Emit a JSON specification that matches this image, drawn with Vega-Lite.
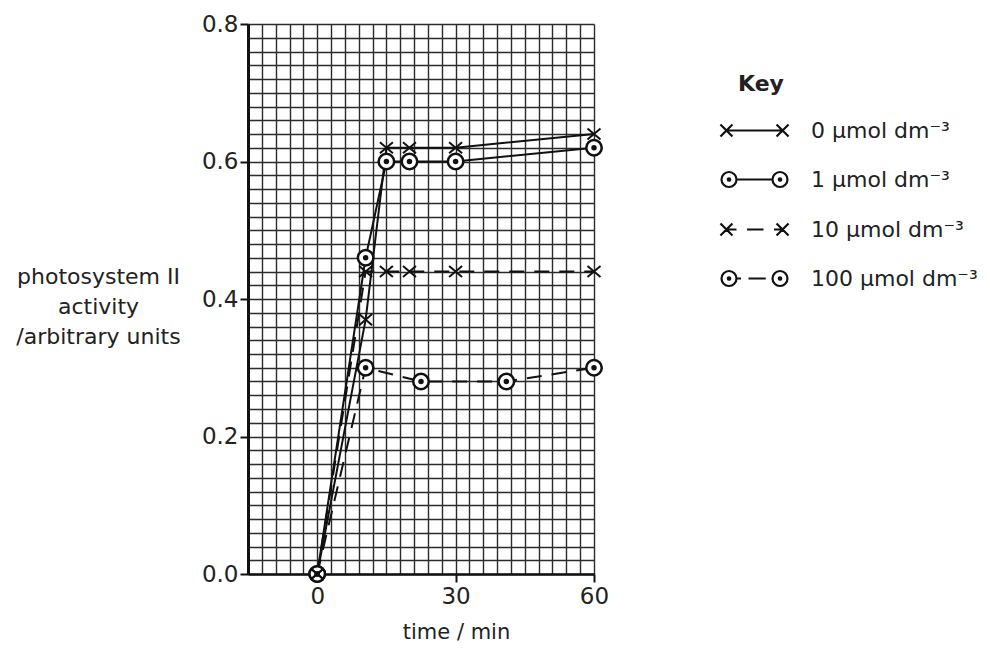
{
  "$schema": "https://vega.github.io/schema/vega-lite/v6.json",
  "width": 346,
  "height": 550,
  "autosize": "none",
  "padding": {"left": 248, "top": 24, "right": 396, "bottom": 78},
  "config": {
    "font": "DejaVu Sans",
    "view": {"stroke": null},
    "background": "white"
  },
  "data": {
    "values": [
      {"series": "0", "t": 0, "v": 0},
      {"series": "0", "t": 10.5, "v": 0.37},
      {"series": "0", "t": 15, "v": 0.62},
      {"series": "0", "t": 20, "v": 0.62},
      {"series": "0", "t": 30, "v": 0.62},
      {"series": "0", "t": 60, "v": 0.64},
      {"series": "1", "t": 0, "v": 0},
      {"series": "1", "t": 10.5, "v": 0.46},
      {"series": "1", "t": 15, "v": 0.60},
      {"series": "1", "t": 20, "v": 0.60},
      {"series": "1", "t": 30, "v": 0.60},
      {"series": "1", "t": 60, "v": 0.62},
      {"series": "10", "t": 0, "v": 0},
      {"series": "10", "t": 10.5, "v": 0.44},
      {"series": "10", "t": 15, "v": 0.44},
      {"series": "10", "t": 20, "v": 0.44},
      {"series": "10", "t": 30, "v": 0.44},
      {"series": "10", "t": 60, "v": 0.44},
      {"series": "100", "t": 0, "v": 0},
      {"series": "100", "t": 10.5, "v": 0.30},
      {"series": "100", "t": 22.5, "v": 0.28},
      {"series": "100", "t": 41, "v": 0.28},
      {"series": "100", "t": 60, "v": 0.30}
    ]
  },
  "encoding": {
    "x": {
      "field": "t",
      "type": "quantitative",
      "scale": {"domain": [-15, 60], "nice": false, "zero": false},
      "axis": {
        "values": [-15, -12, -9, -6, -3, 0, 3, 6, 9, 12, 15, 18, 21, 24, 27, 30, 33, 36, 39, 42, 45, 48, 51, 54, 57, 60],
        "grid": true,
        "gridColor": "#2b2b2b",
        "gridWidth": 1.4,
        "gridOpacity": 1,
        "labelExpr": "datum.value % 30 === 0 ? format(datum.value, 'd') : ''",
        "labelOverlap": false,
        "labelFlush": false,
        "labelFontSize": 23,
        "labelColor": "#222222",
        "labelPadding": 3,
        "tickOpacity": {"condition": {"test": "datum.value % 30 === 0", "value": 1}, "value": 0},
        "tickSize": 8,
        "tickWidth": 2,
        "tickColor": "#111111",
        "domainColor": "#111111",
        "domainWidth": 2.5,
        "title": "time / min",
        "titleFontSize": 21,
        "titleFontWeight": "normal",
        "titleColor": "#222222",
        "titleAlign": "center",
        "titleBaseline": "middle",
        "titleX": 208,
        "titleY": 58
      }
    },
    "y": {
      "field": "v",
      "type": "quantitative",
      "scale": {"domain": [0, 0.8], "nice": false, "zero": false},
      "axis": {
        "values": [0, 0.02, 0.04, 0.06, 0.08, 0.1, 0.12, 0.14, 0.16, 0.18, 0.2, 0.22, 0.24, 0.26, 0.28, 0.3, 0.32, 0.34, 0.36, 0.38, 0.4, 0.42, 0.44, 0.46, 0.48, 0.5, 0.52, 0.54, 0.56, 0.58, 0.6, 0.62, 0.64, 0.66, 0.68, 0.7, 0.72, 0.74, 0.76, 0.78, 0.8],
        "grid": true,
        "gridColor": "#2b2b2b",
        "gridWidth": 1.4,
        "gridOpacity": 1,
        "labelExpr": "round(datum.value * 50) % 10 === 0 ? format(datum.value, '.1f') : ''",
        "labelOverlap": false,
        "labelFlush": false,
        "labelFontSize": 23,
        "labelColor": "#222222",
        "labelPadding": 2,
        "tickOpacity": {"condition": {"test": "round(datum.value * 50) % 10 === 0", "value": 1}, "value": 0},
        "tickSize": 8,
        "tickWidth": 2,
        "tickColor": "#111111",
        "domainColor": "#111111",
        "domainWidth": 3,
        "title": ["photosystem II", "activity", "/arbitrary units"],
        "titleFontSize": 22,
        "titleFontWeight": "normal",
        "titleColor": "#222222",
        "titleAngle": 0,
        "titleAlign": "center",
        "titleBaseline": "middle",
        "titleLineHeight": 30,
        "titleX": -150,
        "titleY": 252
      }
    }
  },
  "layer": [
    {
      "transform": [{"filter": "datum.series === '0' || datum.series === '1'"}],
      "mark": {"type": "line", "color": "#111111", "strokeWidth": 2},
      "encoding": {"detail": {"field": "series"}}
    },
    {
      "transform": [{"filter": "datum.series === '10' || datum.series === '100'"}],
      "mark": {"type": "line", "color": "#111111", "strokeWidth": 2, "strokeDash": [15, 10]},
      "encoding": {"detail": {"field": "series"}}
    },
    {
      "transform": [{"filter": "datum.series === '1' || datum.series === '100'"}],
      "mark": {"type": "point", "shape": "circle", "size": 240, "filled": false, "fill": "white", "fillOpacity": 1, "stroke": "#111111", "strokeWidth": 2.5, "opacity": 1}
    },
    {
      "transform": [{"filter": "datum.series === '1' || datum.series === '100'"}],
      "mark": {"type": "point", "shape": "circle", "size": 30, "filled": true, "color": "#111111", "opacity": 1}
    },
    {
      "transform": [{"filter": "datum.series === '0' || datum.series === '10'"}],
      "mark": {"type": "point", "shape": "M-1,-0.85L1,0.85M-1,0.85L1,-0.85", "size": 169, "filled": false, "stroke": "#111111", "strokeWidth": 2, "opacity": 1}
    },
    {
      "transform": [{"filter": "datum.t < -100"}],
      "mark": {"type": "point", "color": "#111111", "filled": false},
      "encoding": {
        "shape": {
          "field": "series",
          "type": "nominal",
          "scale": {
            "domain": ["0", "1", "10", "100"],
            "range": [
              "M-2.27,-0.4L-1.47,0.4M-2.27,0.4L-1.47,-0.4M-1.87,0L1.87,0M1.47,-0.4L2.27,0.4M1.47,0.4L2.27,-0.4",
              "M-1.2,0A0.5,0.5 0 1,1 -2.2,0A0.5,0.5 0 1,1 -1.2,0M-1.62,0A0.08,0.08 0 1,1 -1.78,0A0.08,0.08 0 1,1 -1.62,0M-1.2,0L1.2,0M2.2,0A0.5,0.5 0 1,1 1.2,0A0.5,0.5 0 1,1 2.2,0M1.78,0A0.08,0.08 0 1,1 1.62,0A0.08,0.08 0 1,1 1.78,0",
              "M-2.27,-0.4L-1.47,0.4M-2.27,0.4L-1.47,-0.4M-1.87,0L-1.2,0M-0.5,0L0.6,0M1.3,0L1.87,0M1.47,-0.4L2.27,0.4M1.47,0.4L2.27,-0.4",
              "M-1.2,0A0.5,0.5 0 1,1 -2.2,0A0.5,0.5 0 1,1 -1.2,0M-1.62,0A0.08,0.08 0 1,1 -1.78,0A0.08,0.08 0 1,1 -1.62,0M-1.2,0L-0.9,0M-0.4,0L0.75,0M2.2,0A0.5,0.5 0 1,1 1.2,0A0.5,0.5 0 1,1 2.2,0M1.78,0A0.08,0.08 0 1,1 1.62,0A0.08,0.08 0 1,1 1.78,0"
            ]
          },
          "legend": {
            "title": "Key",
            "orient": "none",
            "legendX": 490,
            "legendY": 50,
            "titleFontSize": 22,
            "titleFontWeight": "bold",
            "titleColor": "#222222",
            "titlePadding": 18,
            "labelExpr": "datum.label + ' μmol dm⁻³'",
            "labelFontSize": 22,
            "labelColor": "#222222",
            "labelOffset": 40,
            "labelLimit": 400,
            "symbolSize": 900,
            "symbolStrokeWidth": 2.2,
            "symbolStrokeColor": "#111111",
            "symbolFillColor": "transparent",
            "symbolOpacity": 1,
            "rowPadding": 21
          }
        }
      }
    }
  ]
}
